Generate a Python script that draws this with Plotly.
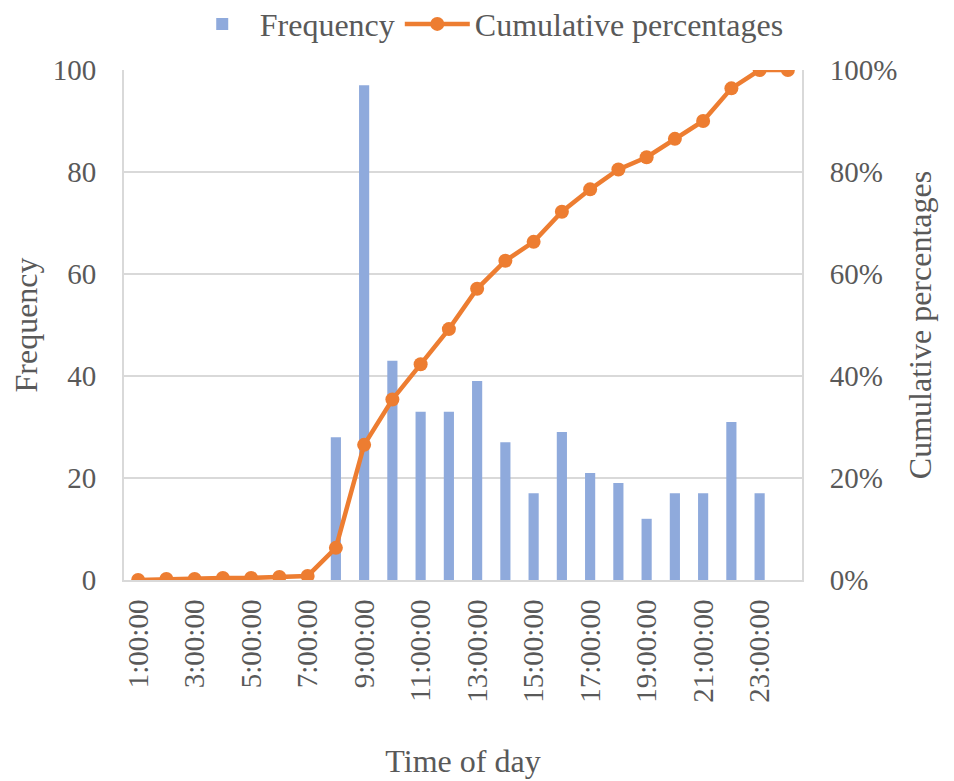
import plotly.graph_objects as go

hours = [f"{h}:00:00" for h in range(1, 25)]
frequency = [0, 0, 0, 0, 0, 0, 0, 28, 97, 43, 33, 33, 39, 27, 17, 29, 21, 19, 12, 17, 17, 31, 17, 0]
cumulative_pct = [0.0, 0.2, 0.2, 0.4, 0.4, 0.6, 0.8, 6.3, 26.5, 35.4, 42.3, 49.2, 57.1, 62.6,
                  66.3, 72.2, 76.6, 80.5, 82.9, 86.5, 90.0, 96.4, 100.0, 100.0]
x_tick_labels = hours[::2]
left_ticks = [0, 20, 40, 60, 80, 100]
right_ticks = [0, 20, 40, 60, 80, 100]
right_tick_text = [f"{v}%" for v in right_ticks]

FONT = "Liberation Serif, Times New Roman, serif"
TXT = "#595959"
GRID = "#D9D9D9"

fig = go.Figure()
fig.add_trace(go.Bar(
    x=hours, y=frequency, name="Frequency",
    marker=dict(color="#8FAADC", line=dict(width=0)),
    width=0.36,
))
fig.add_trace(go.Scatter(
    x=hours, y=cumulative_pct, name="Cumulative percentages", yaxis="y2",
    mode="lines+markers",
    line=dict(color="#ED7D31", width=4.5),
    marker=dict(color="#ED7D31", size=14),
))

fig.update_layout(
    width=946, height=773,
    margin=dict(l=116, r=152, t=62, b=201, autoexpand=False),
    paper_bgcolor="white", plot_bgcolor="white",
    font=dict(family=FONT, size=29, color=TXT),
    showlegend=True,
    legend=dict(orientation="h", x=0.535, xanchor="center", y=1.09, yref="paper", yanchor="middle",
                font=dict(size=32, color=TXT), tracegroupgap=0, itemwidth=65),
    xaxis=dict(
        type="category", categoryorder="array", categoryarray=hours,
        tickmode="array", tickvals=x_tick_labels, ticktext=x_tick_labels,
        tickangle=-90, tickfont=dict(size=29, color=TXT),
        showgrid=False, showline=True, linecolor=GRID, linewidth=2,
        ticks="", ticklabelstandoff=6, automargin=False,
        title=dict(text="Time of day", font=dict(size=32, color=TXT), standoff=48),
        range=[-0.5, 23.5],
    ),
    yaxis=dict(
        range=[0, 100], tickmode="array", tickvals=left_ticks,
        showgrid=True, gridcolor=GRID, gridwidth=2,
        showline=True, linecolor=GRID, linewidth=2, zeroline=False,
        ticks="", ticklabelstandoff=20, automargin=False,
        tickfont=dict(size=29, color=TXT),
        title=dict(text="Frequency", font=dict(size=32, color=TXT), standoff=10),
    ),
    yaxis2=dict(
        range=[0, 100], overlaying="y", side="right",
        tickmode="array", tickvals=right_ticks, ticktext=right_tick_text,
        showgrid=False, showline=True, linecolor=GRID, linewidth=2, zeroline=False,
        ticks="", ticklabelstandoff=20, automargin=False,
        tickfont=dict(size=29, color=TXT),
        title=dict(text="Cumulative percentages", font=dict(size=32, color=TXT), standoff=12),
    ),
)

fig.write_html("out.html")
